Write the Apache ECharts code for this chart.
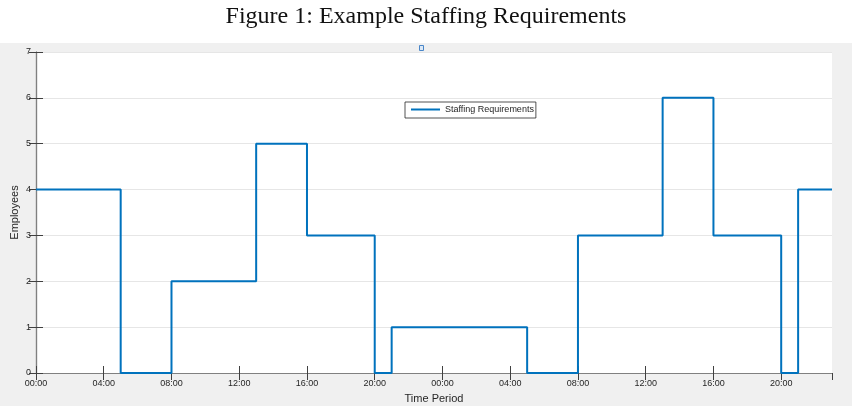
<!DOCTYPE html>
<html>
<head>
<meta charset="utf-8">
<script src="https://cdn.jsdelivr.net/npm/echarts@6/dist/echarts.min.js"></script>
<style>
  html, body { margin: 0; padding: 0; }
  #chart {
    width: 852px;
    height: 406px;
    background: linear-gradient(#ffffff 0, #ffffff 43px, #f0f0f0 43px, #f0f0f0 100%);
  }
</style>
</head>
<body>
<div id="chart"></div>
<script>
// hour index over two days, 0..47
const hours = [
  0, 1, 2, 3, 4, 5, 6, 7, 8, 9, 10, 11, 12, 13, 14, 15, 16, 17, 18, 19, 20, 21, 22, 23,
  24, 25, 26, 27, 28, 29, 30, 31, 32, 33, 34, 35, 36, 37, 38, 39, 40, 41, 42, 43, 44, 45, 46, 47
];
const staffing = [
  4, 4, 4, 4, 4, 0, 0, 0, 2, 2, 2, 2, 2, 5, 5, 5, 3, 3, 3, 3, 0, 1, 1, 1,
  1, 1, 1, 1, 1, 0, 0, 0, 3, 3, 3, 3, 3, 6, 6, 6, 3, 3, 3, 3, 0, 4, 4, 4
];
const yTicks = [0, 1, 2, 3, 4, 5, 6, 7];

const chart = echarts.init(document.getElementById('chart'), null, { renderer: 'canvas' });

const tickFont = { fontFamily: 'Liberation Sans', fontSize: 9, color: '#262626' };
const axisColor = '#808080';

function fmtHour(v) {
  const h = v % 24;
  return (h < 10 ? '0' + h : '' + h) + ':00';
}

const option = {
  backgroundColor: 'transparent',
  animation: false,
  title: {
    text: 'Figure 1: Example Staffing Requirements',
    left: 'center',
    top: 0,
    textStyle: {
      fontFamily: 'Liberation Serif',
      fontWeight: 'normal',
      fontSize: 24,
      color: '#111'
    }
  },
  legend: {
    data: ['Staffing Requirements'],
    left: 405,
    top: 102,
    icon: 'rect',
    itemWidth: 29,
    itemHeight: 2,
    padding: [3, 2, 4, 6],
    borderColor: '#262626',
    borderWidth: 0.8,
    borderRadius: 0,
    backgroundColor: '#fff',
    textStyle: { fontFamily: 'Liberation Sans', fontSize: 9, color: '#262626' }
  },
  grid: {
    left: 36,
    right: 20,
    top: 52,
    bottom: 33,
    outerBoundsMode: 'none',
    containLabel: false,
    show: true,
    backgroundColor: '#fff',
    borderWidth: 0
  },
  xAxis: [
    {
      type: 'value',
      min: 0,
      max: 47,
      interval: 4,
      name: 'Time Period',
      nameLocation: 'middle',
      nameGap: 20,
      nameMoveOverlap: false,
      nameTextStyle: { fontFamily: 'Liberation Sans', fontSize: 11, color: '#262626' },
      axisLine: { show: true, lineStyle: { color: axisColor, width: 1.2 } },
      axisTick: { show: true, inside: true, length: 7, lineStyle: { color: '#404040' } },
      axisLabel: Object.assign({ formatter: fmtHour, margin: 6, showMaxLabel: false }, tickFont),
      splitLine: { show: false }
    },
    {
      type: 'value',
      position: 'top',
      min: 0,
      max: 47,
      interval: 4,
      axisLine: { show: true, lineStyle: { color: axisColor, width: 1.2 } },
      axisTick: { show: true, inside: true, length: 7, lineStyle: { color: '#404040' } },
      axisLabel: { show: false },
      splitLine: { show: false }
    }
  ],
  yAxis: [
    {
      type: 'value',
      min: yTicks[0],
      max: yTicks[yTicks.length - 1],
      interval: 1,
      name: 'Employees',
      nameLocation: 'middle',
      nameGap: 16,
      nameMoveOverlap: false,
      nameTextStyle: { fontFamily: 'Liberation Sans', fontSize: 11, color: '#262626' },
      axisLine: { show: true, lineStyle: { color: axisColor, width: 1.2 } },
      axisTick: { show: true, inside: true, length: 7, lineStyle: { color: '#404040' } },
      axisLabel: Object.assign({ margin: 5 }, tickFont),
      splitLine: { show: true, lineStyle: { color: '#e6e6e6', width: 1 } }
    },
    {
      type: 'value',
      position: 'right',
      min: yTicks[0],
      max: yTicks[yTicks.length - 1],
      interval: 1,
      axisLine: { show: true, lineStyle: { color: axisColor, width: 1.2 } },
      axisTick: { show: true, inside: true, length: 7, lineStyle: { color: '#404040' } },
      axisLabel: { show: false },
      splitLine: { show: false }
    }
  ],
  graphic: [
    {
      type: 'rect',
      left: 419,
      top: 45,
      shape: { width: 4, height: 5 },
      style: { fill: '#dce9f7', stroke: '#4a86c8', lineWidth: 1 },
      z: 100
    }
  ],
  series: [
    {
      name: 'Staffing Requirements',
      type: 'line',
      step: 'end',
      showSymbol: false,
      symbol: 'none',
      data: hours.map((h, i) => [h, staffing[i]]),
      lineStyle: { color: '#0072BD', width: 2 },
      itemStyle: { color: '#0072BD' },
      clip: false
    }
  ]
};

chart.setOption(option);
</script>
</body>
</html>
